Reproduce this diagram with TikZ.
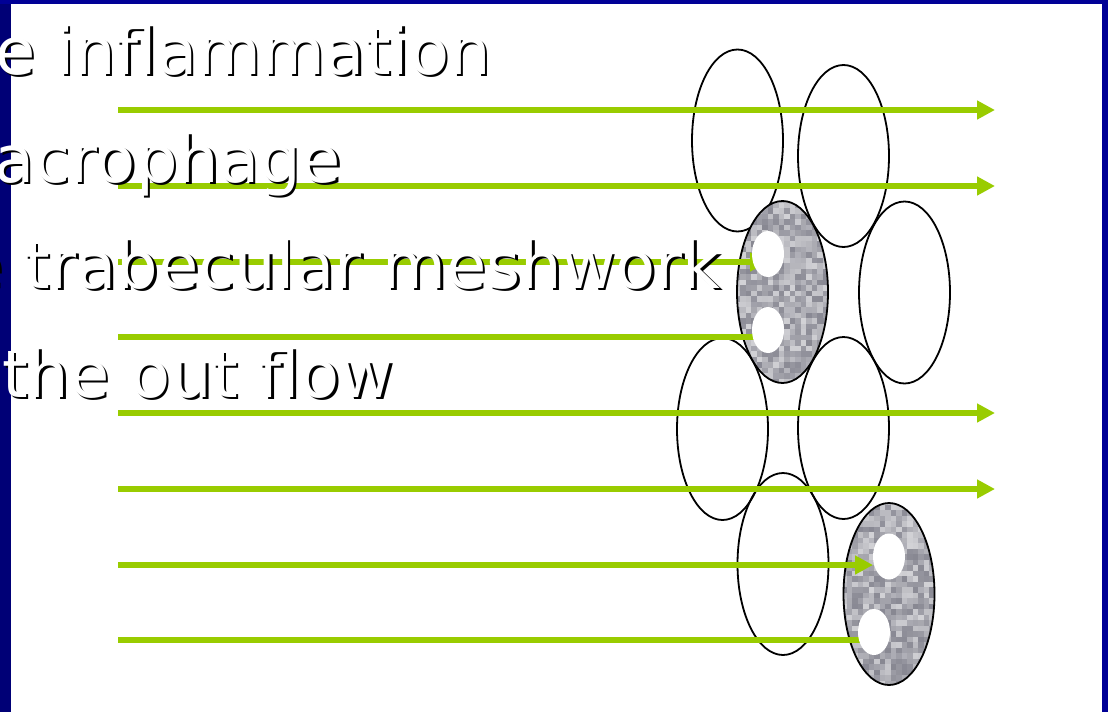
\documentclass[tikz,border=0pt]{standalone}
\usepackage{fontspec}
\setmainfont{DejaVu Sans}
\usetikzlibrary{arrows.meta,shapes.geometric}
\definecolor{barL}{RGB}{0,0,118}
\definecolor{barT}{RGB}{0,0,150}
\definecolor{flow}{RGB}{153,204,0}
\definecolor{grain}{RGB}{96,96,110}

\begin{document}
\begin{tikzpicture}[x=1pt,y=-1pt,
  cell/.style={ellipse, draw=black, line width=1.8pt, minimum width=91pt,
    minimum height=182pt, inner sep=0pt},
  speckle/.style={path picture={
    \foreach \i in {0,...,17}{\foreach \j in {0,...,34}{
      \pgfmathsetmacro\g{int(28+48*rnd)}
      \fill[grain!\g!white] ([shift={(-48+5.5*\i,-95+5.5*\j)}]path picture bounding box.center)
        rectangle ++(5.6,5.6);
    }}}},
  hole/.style={ellipse, fill=white, minimum width=32pt, minimum height=46pt, inner sep=0pt},
  flowline/.style={draw=flow, line width=5.5pt},
  flowarrow/.style={flowline, -{Triangle[length=18pt,width=18pt]}},
  caption/.style={anchor=base west, inner sep=0pt,
    font=\fontsize{65.5}{65.5}\selectfont, text=white},
  capshade/.style={caption, text=black}
]
\useasboundingbox (0,0) rectangle (1108,712);
\clip (0,0) rectangle (1108,712);

% slide background and frame
\fill[white] (0,0) rectangle (1108,712);
\fill[barL] (0,0) rectangle (11,712);
\fill[barT] (0,0) rectangle (1108,4);
\fill[barT] (1102,0) rectangle (1108,712);

% plain cells
\node[cell] (c1) at (737.5,140.5) {};
\node[cell] (c2) at (843.5,156) {};
\node[cell] (c3) at (904.5,292.5) {};
\node[cell] (c4) at (722.5,429) {};
\node[cell] (c5) at (843.5,428) {};
\node[cell] (c6) at (783,564) {};

% speckled cells
\pgfmathsetseed{17}
\node[cell, speckle] (g1) at (782.5,292) {};
\node[cell, speckle] (g2) at (889,594) {};

% flow paths
\coordinate (s1) at (118,110);  \coordinate (e1) at (995,110);
\coordinate (s2) at (118,186);  \coordinate (e2) at (995,186);
\coordinate (s3) at (118,262);
\coordinate (s4) at (118,337);
\coordinate (s5) at (118,413);  \coordinate (e5) at (995,413);
\coordinate (s6) at (118,489);  \coordinate (e6) at (995,489);
\coordinate (s7) at (118,565);
\coordinate (s8) at (118,640);

% openings in the speckled cells
\path (768,254) coordinate (p1) (768,330) coordinate (p2)
      (889,556.5) coordinate (p3) (874,632) coordinate (p4);

\draw[flowarrow] (s1) -- (e1);
\draw[flowarrow] (s2) -- (e2);
\draw[flowarrow] (s3) -- (p1 |- s3);
\draw[flowline]  (s4) -- (p2 |- s4);
\draw[flowarrow] (s5) -- (e5);
\draw[flowarrow] (s6) -- (e6);
\draw[flowarrow] (s7) -- ([xshift=-16pt]p3 |- s7);
\draw[flowline]  (s8) -- (p4 |- s8);

\node[hole] (h1) at (p1) {};
\node[hole] (h2) at (p2) {};
\node[hole] (h3) at (p3) {};
\node[hole] (h4) at (p4) {};

% captions with drop shadow
\node[capshade] (t1s) at (-2.5,76.5) {e inflammation};
\node[caption]  (t1)  at (-5,74) {e inflammation};
\node[capshade] (t2s) at (-3.5,184.5) {acrophage};
\node[caption]  (t2)  at (-6,182) {acrophage};
\node[capshade] (t3s) at (-34.5,290.5) {e trabecular meshwork};
\node[caption]  (t3)  at (-37,288) {e trabecular meshwork};
\node[capshade] (t4s) at (4.5,399.5) {the out flow};
\node[caption]  (t4)  at (2,397) {the out flow};
\end{tikzpicture}
\end{document}
